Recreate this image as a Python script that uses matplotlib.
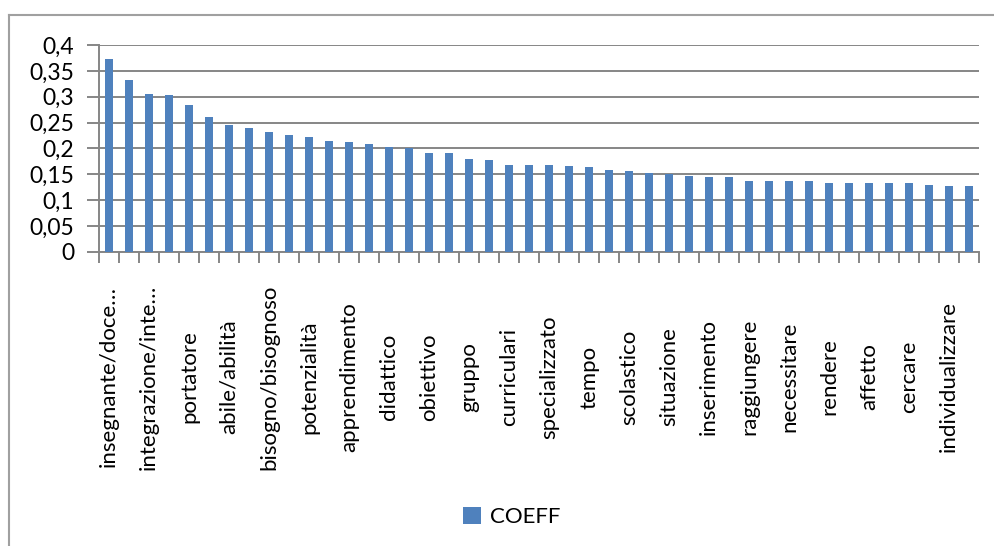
import numpy as np
import matplotlib.pyplot as plt
from matplotlib.lines import Line2D
from matplotlib.ticker import FuncFormatter, MultipleLocator

plt.rcParams['font.family'] = ['Lato', 'DejaVu Sans']

# coefficienti per parola (44 termini, in ordine decrescente)
coeff = [0.372, 0.332, 0.305, 0.303, 0.284, 0.260, 0.245, 0.239, 0.231, 0.226,
         0.222, 0.214, 0.212, 0.208, 0.203, 0.200, 0.191, 0.191, 0.180, 0.178,
         0.169, 0.168, 0.168, 0.166, 0.164, 0.159, 0.157, 0.153, 0.151, 0.147,
         0.144, 0.144, 0.138, 0.138, 0.137, 0.137, 0.134, 0.134, 0.134, 0.133,
         0.133, 0.130, 0.128, 0.127]

# etichette visibili (una ogni due barre)
etichette = ['insegnante/doce…', 'integrazione/inte…', 'portatore', 'abile/abilità',
             'bisogno/bisognoso', 'potenzialità', 'apprendimento', 'didattico',
             'obiettivo', 'gruppo', 'curriculari', 'specializzato', 'tempo',
             'scolastico', 'situazione', 'inserimento', 'raggiungere', 'necessitare',
             'rendere', 'affetto', 'cercare', 'individualizzare']

blu = '#4F81BD'
grigio = '#868686'

fig = plt.figure(figsize=(9.94, 5.46), dpi=100)
ax = fig.add_axes([0.0996, 0.5385, 0.8854, 0.3791])

x = np.arange(len(coeff))
ax.bar(x, coeff, width=0.4, color=blu, label='COEFF', zorder=3)

ax.set_xlim(-0.5, len(coeff) - 0.5)
ax.set_ylim(0, 0.4)
ax.yaxis.set_major_locator(MultipleLocator(0.05))
ax.yaxis.set_major_formatter(FuncFormatter(lambda v, p: f'{v:.2f}'.rstrip('0').rstrip('.').replace('.', ',')))
ax.grid(axis='y', color=grigio, linewidth=1.4, zorder=0)

ax.set_xticks(x[::2])
ax.set_xticklabels(etichette, rotation=90, fontsize=16)
ax.set_xticks(np.arange(-0.5, len(coeff)), minor=True)
ax.tick_params(axis='x', which='major', length=0, pad=90)
ax.tick_params(axis='x', which='minor', length=8, width=1.4, color=grigio)
for lab in ax.get_xticklabels():
    lab.set_va('center')
    lab.set_ha('center')
ax.tick_params(axis='y', length=9, width=1.4, color=grigio, labelsize=16.5, pad=9)

for s in ['top', 'right']:
    ax.spines[s].set_visible(False)
for s in ['left', 'bottom']:
    ax.spines[s].set_color(grigio)
    ax.spines[s].set_linewidth(1.4)

# bordo del grafico (solo sinistra e in alto)
fig.add_artist(Line2D([0.009, 0.009], [0, 1 - 15 / 546], color='#a0a0a0', lw=1.5))
fig.add_artist(Line2D([0.009, 1], [1 - 15 / 546, 1 - 15 / 546], color='#a0a0a0', lw=1.5))

fig.legend(loc='center', bbox_to_anchor=(0.515, 1 - 517 / 546), frameon=False,
           fontsize=16, handlelength=0.8, handleheight=0.8, handletextpad=0.4)

fig.savefig('out.png', dpi=100, facecolor='white')
